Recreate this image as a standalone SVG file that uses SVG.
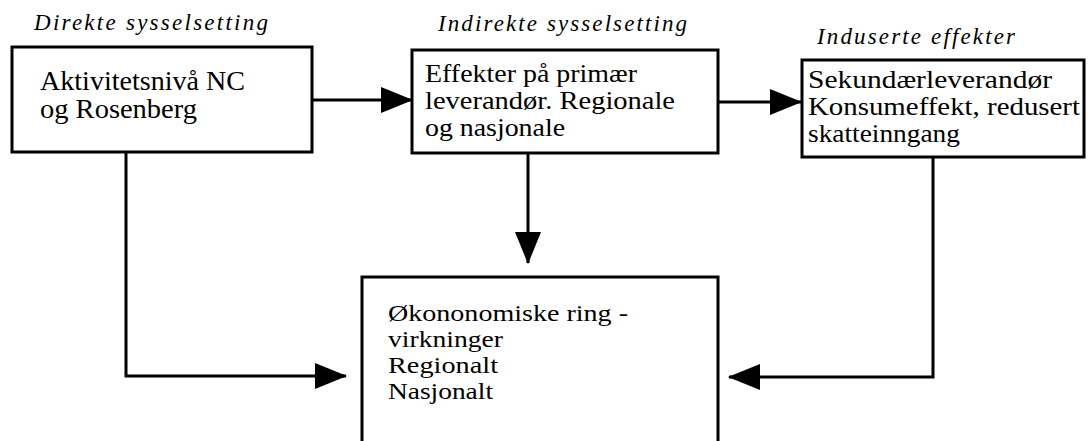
<svg xmlns="http://www.w3.org/2000/svg" width="1089" height="441" viewBox="0 0 1089 441">
<style>
.box{fill:#fff;stroke:#000;stroke-width:3}
.t{font-family:"Liberation Serif","Times New Roman",serif;font-size:27px;fill:#000}
.s{font-size:26px}
.n{font-size:23px}
.h{font-family:"Liberation Serif","Times New Roman",serif;font-size:23px;font-style:italic;fill:#000}
.c{fill:none;stroke:#000;stroke-width:3}
</style>
<defs>
<marker id="ah" markerWidth="32" markerHeight="28" refX="31" refY="14" orient="auto" markerUnits="userSpaceOnUse">
<path d="M0,1 L32,14 L0,27 Z" fill="#000"/>
</marker>
</defs>
<g id="title1"><text class="h" x="34" y="30" textLength="234" lengthAdjust="spacing">Direkte sysselsetting</text></g>
<g id="title2"><text class="h" x="438" y="31" textLength="249" lengthAdjust="spacing">Indirekte sysselsetting</text></g>
<g id="title3"><text class="h" x="817" y="44" textLength="198" lengthAdjust="spacing">Induserte effekter</text></g>
<g id="connectors">
<line class="c" x1="312" y1="100" x2="412" y2="100" marker-end="url(#ah)"/>
<line class="c" x1="718" y1="102" x2="801" y2="102" marker-end="url(#ah)"/>
<line class="c" x1="528" y1="153" x2="528" y2="263" marker-end="url(#ah)"/>
<polyline class="c" points="126,152 126,376 346,376" marker-end="url(#ah)"/>
<polyline class="c" points="933,157 933,377 729,377" marker-end="url(#ah)"/>
</g>
<g id="node1">
<rect class="box" x="12" y="47" width="300" height="105"/>
<text class="t" x="40" y="90" textLength="205" lengthAdjust="spacingAndGlyphs">Aktivitetsnivå NC</text>
<text class="t" x="40" y="118" textLength="157" lengthAdjust="spacingAndGlyphs">og Rosenberg</text>
</g>
<g id="node2">
<rect class="box" x="412" y="50" width="306" height="103"/>
<text class="t s" x="425" y="82" textLength="212" lengthAdjust="spacingAndGlyphs">Effekter på primær</text>
<text class="t s" x="425" y="109" textLength="250" lengthAdjust="spacingAndGlyphs">leverandør. Regionale</text>
<text class="t s" x="425" y="136" textLength="140" lengthAdjust="spacingAndGlyphs">og nasjonale</text>
</g>
<g id="node3">
<rect class="box" x="802" y="60" width="282" height="97"/>
<text class="t s" x="808" y="88" textLength="244" lengthAdjust="spacingAndGlyphs">Sekundærleverandør</text>
<text class="t s" x="808" y="115" textLength="272" lengthAdjust="spacingAndGlyphs">Konsumeffekt, redusert</text>
<text class="t s" x="808" y="142" textLength="152" lengthAdjust="spacingAndGlyphs">skatteinngang</text>
</g>
<g id="node4">
<path class="box" d="M362,445 L362,277 L718,277 L718,445"/>
<text class="t n" x="388" y="321" textLength="240" lengthAdjust="spacingAndGlyphs">Økononomiske ring -</text>
<text class="t n" x="388" y="347" textLength="115" lengthAdjust="spacingAndGlyphs">virkninger</text>
<text class="t n" x="388" y="373" textLength="110" lengthAdjust="spacingAndGlyphs">Regionalt</text>
<text class="t n" x="388" y="399" textLength="105" lengthAdjust="spacingAndGlyphs">Nasjonalt</text>
</g>
</svg>
